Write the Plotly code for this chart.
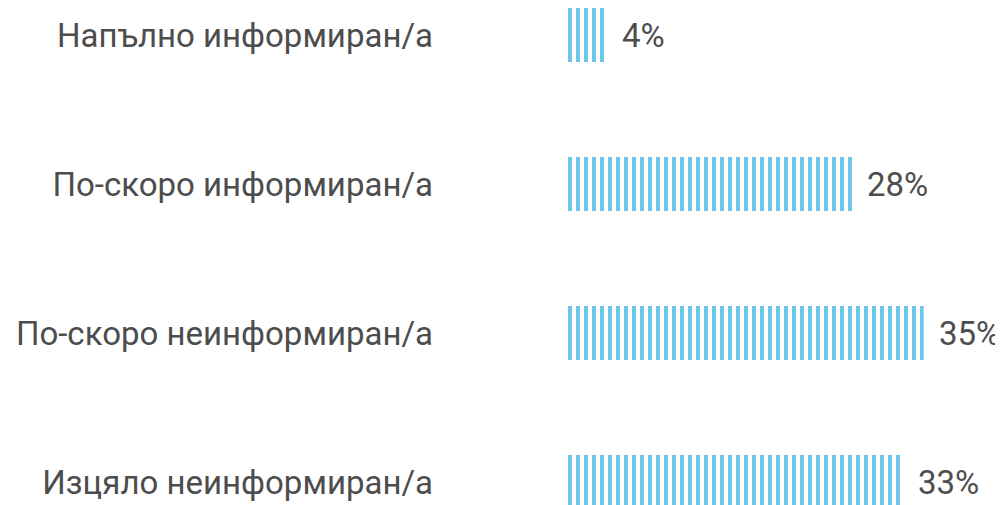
import plotly.graph_objects as go

categories = ["Напълно информиран/а", "По-скоро информиран/а",
              "По-скоро неинформиран/а", "Изцяло неинформиран/а"]
values = [4, 28, 35, 33]
value_labels = ["4%", "28%", "35%", "33%"]

BAR = "#6DC5EA"
TXT = "#4D4D4D"
FONT = "Roboto"
FS = 33

idx = list(range(len(categories)))

fig = go.Figure(go.Bar(
    y=idx, x=values, orientation="h", width=0.362,
    marker=dict(color=BAR, line=dict(width=0),
                pattern=dict(shape="|", size=8, solidity=0.5,
                             fgcolor=BAR, bgcolor="white", fillmode="replace")),
    hoverinfo="skip",
))

for i, (v, t) in enumerate(zip(values, value_labels)):
    fig.add_annotation(x=v, y=i, text=t, showarrow=False, xanchor="left",
                       yanchor="middle", xshift=13,
                       font=dict(family=FONT, size=FS, color=TXT))

fig.update_layout(
    width=1003, height=505,
    margin=dict(l=558, r=0, t=0, b=0),
    paper_bgcolor="white", plot_bgcolor="white",
    showlegend=False,
    xaxis=dict(range=[0, 43.54], visible=False, fixedrange=True,
               automargin=False),
    yaxis=dict(range=[3.208, -0.1812], tickmode="array", tickvals=idx,
               ticktext=categories, showgrid=False, zeroline=False,
               showline=False, ticks="", ticklabelstandoff=132,
               automargin=False, fixedrange=True,
               tickfont=dict(family=FONT, size=FS, color=TXT)),
)

fig.write_html("out.html")
